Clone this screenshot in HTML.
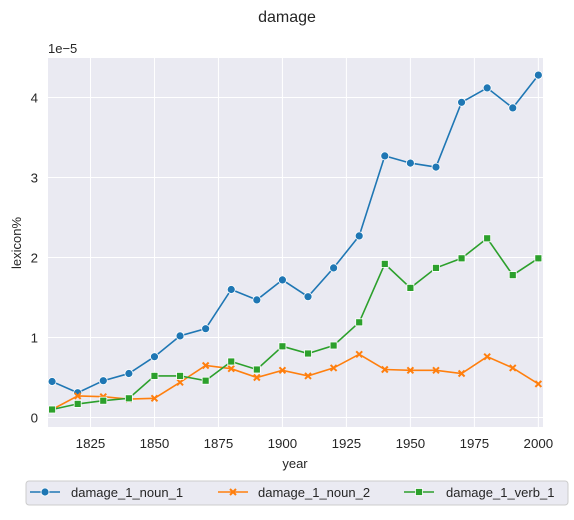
<!DOCTYPE html>
<html><head><meta charset="utf-8"><style>
body{margin:0;background:#fff;font-family:"Liberation Sans",Arial,sans-serif}
svg text{font-family:"Liberation Sans",Arial,sans-serif;fill:#262626}
</style></head><body>
<svg id="chart" width="574" height="515" xmlns="http://www.w3.org/2000/svg">
<text x="287" y="22" font-size="16" text-anchor="middle">damage</text>
<rect x="48" y="58" width="495" height="369" fill="#eaeaf2"/>
<g id="grid"></g><g id="series"></g><g id="ticks"></g>
<text x="48" y="53" font-size="13">1e−5</text>
<text x="295" y="468" font-size="13" text-anchor="middle">year</text>
<text x="21" y="243" font-size="13" text-anchor="middle" transform="rotate(-90 21 243)">lexicon%</text>
<g>
<rect x="26" y="481" width="542" height="24" rx="3" fill="#eaeaf2" stroke="#cccccc"/>
<g id="legend"></g>
</g>
</svg>
<script>
const years=[1810,1820,1830,1840,1850,1860,1870,1880,1890,1900,1910,1920,1930,1940,1950,1960,1970,1980,1990,2000];
const noun1=[0.45,0.31,0.46,0.55,0.76,1.02,1.11,1.6,1.47,1.72,1.51,1.87,2.27,3.27,3.18,3.13,3.94,4.12,3.87,4.28];
const noun2=[0.1,0.27,0.26,0.23,0.24,0.44,0.65,0.61,0.5,0.59,0.52,0.62,0.79,0.6,0.59,0.59,0.55,0.76,0.62,0.42];
const verb1=[0.1,0.17,0.21,0.24,0.52,0.52,0.46,0.7,0.6,0.89,0.8,0.9,1.19,1.92,1.62,1.87,1.99,2.24,1.78,1.99];
const xTicks=[1825,1850,1875,1900,1925,1950,1975,2000];
const yTicks=[0,1,2,3,4];
const seriesNames=["damage_1_noun_1","damage_1_noun_2","damage_1_verb_1"];
const NS="http://www.w3.org/2000/svg";
const X=v=>48+(v-1808.4)*494.7/(2001.7-1808.4);
const Y=v=>417.5-v*80;
function mk(t,a,p){const e=document.createElementNS(NS,t);for(const k in a)e.setAttribute(k,a[k]);p.appendChild(e);return e;}
const grid=document.getElementById('grid'),ticks=document.getElementById('ticks');
xTicks.forEach(t=>{
const l=mk('line',{x1:X(t),x2:X(t),y1:58,y2:427,stroke:'#fff','stroke-width':1},grid);


const tx=mk('text',{x:X(t),y:448,'font-size':13.3,'text-anchor':'middle'},ticks);tx.textContent=t;


});
yTicks.forEach(t=>{
const l=mk('line',{x1:48,x2:543,y1:Y(t),y2:Y(t),stroke:'#fff','stroke-width':1},grid);


const tx=mk('text',{x:38,y:Y(t)+5,'font-size':13.3,'text-anchor':'end'},ticks);tx.textContent=t;


});
const colors=['#1f77b4','#ff7f0e','#2ca02c'];
function marker(k,x,y,p){
if(k==0)return mk('circle',{cx:x,cy:y,r:4,fill:colors[0],stroke:'#fff','stroke-width':0.8},p);
if(k==1)return mk('path',{d:`M${x-3},${y-3}L${x+3},${y+3}M${x-3},${y+3}L${x+3},${y-3}`,stroke:colors[1],'stroke-width':2},p);
return mk('rect',{x:x-3.5,y:y-3.5,width:7,height:7,fill:colors[2],stroke:'#fff','stroke-width':0.8},p);
}
const ser=document.getElementById('series');
[noun1,noun2,verb1].forEach((d,k)=>{
const g=mk('g',{},ser);


mk('polyline',{points:d.map((v,i)=>X(years[i])+','+Y(v)).join(' '),fill:'none',stroke:colors[k],'stroke-width':1.6},g);
d.forEach((v,i)=>{const m=marker(k,X(years[i]),Y(v),g);

});
});
const lg=document.getElementById('legend');
[[30,71],[218,258],[404,446]].forEach((p,k)=>{
const x=p[0];
const g=mk('g',{},lg);


mk('line',{x1:x,x2:x+30,y1:492,y2:492,stroke:colors[k],'stroke-width':1.6},g);
marker(k,x+15,492,g);
const t=mk('text',{x:p[1],y:497,'font-size':13},g);t.textContent=seriesNames[k];
});
</script>
</body></html>
